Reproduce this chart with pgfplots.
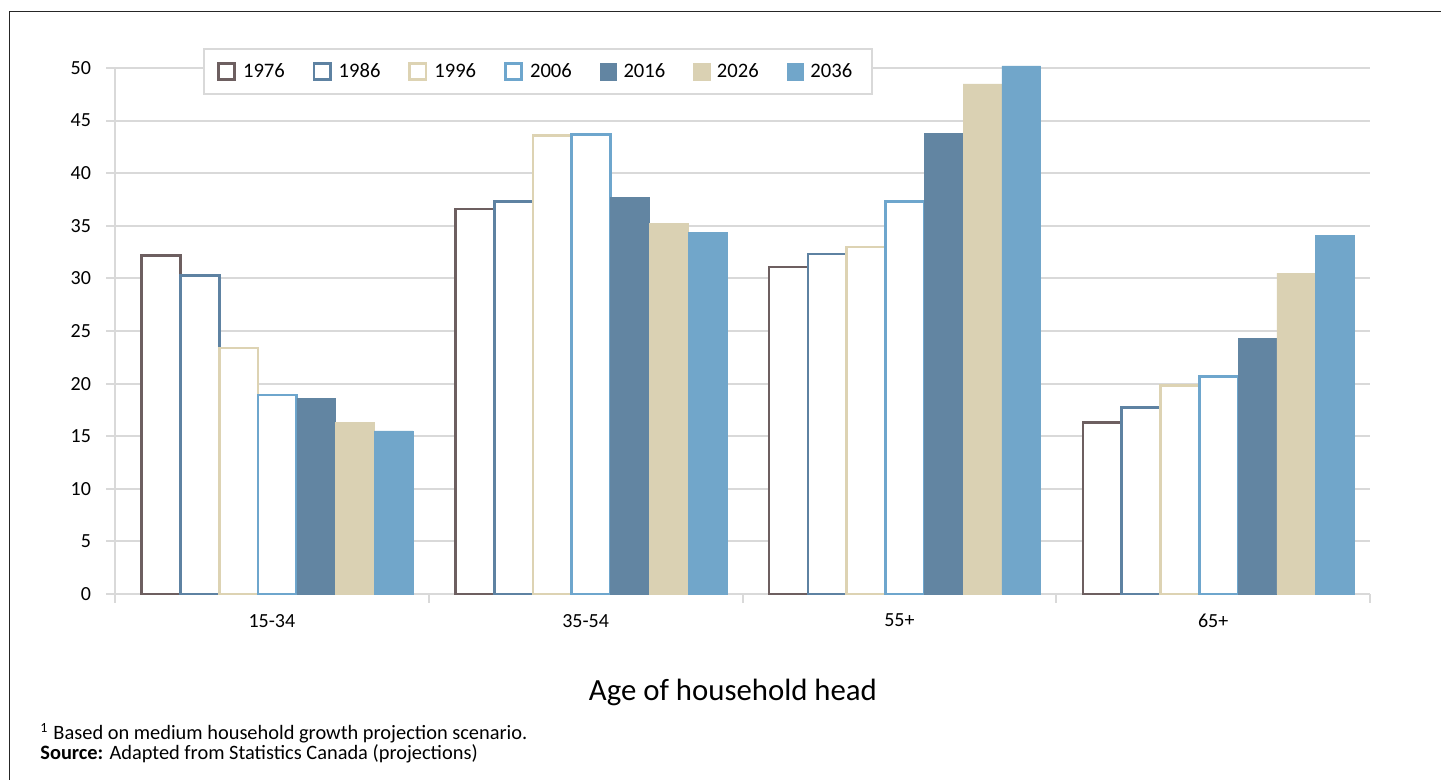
\documentclass[border=0pt]{standalone}
\usepackage{fontspec}
\setmainfont{Carlito}
\usepackage{pgfplots}
\usepackage{pgfplotstable}
\pgfplotsset{compat=1.18}

\definecolor{gridgray}{HTML}{D9D9D9}
\definecolor{c1976}{HTML}{6D5F60}
\definecolor{c1986}{HTML}{5E82A2}
\definecolor{c1996}{HTML}{DDD3B3}
\definecolor{c2006}{HTML}{6EA6CD}
\definecolor{c2016}{HTML}{6285A2}
\definecolor{c2026}{HTML}{DAD1B3}
\definecolor{c2036}{HTML}{71A6CA}

% share of households by age group of head (categories at x = 0..3)
\pgfplotstableread{
x  y1976 y1986 y1996 y2006 y2016 y2026 y2036
0  32.2  30.3  23.4  18.9  18.6  16.3  15.5
1  36.6  37.3  43.6  43.7  37.7  35.2  34.4
2  31.1  32.3  33.0  37.3  43.8  48.5  50.2
3  16.3  17.7  19.8  20.7  24.3  30.5  34.1
}\datatable

\newcommand\bw{0.1236}

\begin{document}
\begin{tikzpicture}
\path[use as bounding box] (0,0) rectangle (720.5pt,390pt);
\draw[line width=0.8pt, black!85] (4.65pt,0pt) -- (4.65pt,384.15pt) -- (720.5pt,384.15pt);

\begin{axis}[
  at={(57.5pt,93pt)}, anchor=south west,
  width=627.5pt, height=263pt, scale only axis,
  xmin=-0.5, xmax=3.5, ymin=0, ymax=50,
  clip=false,
  axis x line*=bottom, axis y line*=left,
  axis line style={draw=gridgray, line width=1pt, -},
  xtick={-0.5,0.5,1.5,2.5,3.5}, xticklabels={},
  extra x ticks={0,1,2,3},
  extra x tick labels={15-34,35-54,55+,65+},
  extra x tick style={major tick length=0pt, tick label style={yshift=-6.5pt}},
  ytick={0,5,...,50},
  tick align=outside, major tick length=4.5pt,
  tick style={draw=gridgray, line width=1pt},
  ymajorgrids, major grid style={draw=gridgray, line width=1pt},
  tick label style={font=\fontsize{10}{12}\selectfont},
  yticklabel style={xshift=-4pt},
  /pgf/number format/assume math mode=true,
  ybar, bar width=\bw,
  legend columns=7,
  legend image code/.code={\draw[#1] (0pt,-4.1pt) rectangle (8.25pt,4.1pt);},
  legend style={at={(0.0701,1.038)}, anchor=north west,
    draw=gridgray, line width=1pt, fill=white,
    font=\fontsize{10.3}{12}\selectfont,
    inner xsep=6.5pt, inner ysep=5pt,
    nodes={inner sep=2pt, inner xsep=3.5pt, text depth=0.15em},
    /tikz/every even column/.append style={column sep=10.4pt}},
]
\addplot[bar shift={-3*\bw+0.0176}, fill=white, draw=c1976, line width=1.3pt] table[x=x,y=y1976] {\datatable};
\addplot[bar shift={-2*\bw+0.0176}, fill=white, draw=c1986, line width=1.3pt] table[x=x,y=y1986] {\datatable};
\addplot[bar shift={-1*\bw+0.0176}, fill=white, draw=c1996, line width=1.3pt] table[x=x,y=y1996] {\datatable};
\addplot[bar shift={0.0176}, fill=white, draw=c2006, line width=1.3pt] table[x=x,y=y2006] {\datatable};
\addplot[bar shift={1*\bw+0.0176}, fill=c2016, draw=c2016, line width=0.2pt] table[x=x,y=y2016] {\datatable};
\addplot[bar shift={2*\bw+0.0176}, fill=c2026, draw=c2026, line width=0.2pt] table[x=x,y=y2026] {\datatable};
\addplot[bar shift={3*\bw+0.0176}, fill=c2036, draw=c2036, line width=0.2pt] table[x=x,y=y2036] {\datatable};
\legend{1976,1986,1996,2006,2016,2026,2036}
\end{axis}

\node[anchor=base, font=\fontsize{15.4}{18}\selectfont] at (366.5pt,39.5pt) {Age of household head};
\node[anchor=base west, inner sep=0pt, font=\fontsize{10.2}{12}\selectfont] at (20pt,20pt) {\textsuperscript{\fontsize{7}{8}\selectfont 1}\hspace{2.5pt}Based on medium household growth projection scenario.};
\node[anchor=base west, inner sep=0pt, font=\fontsize{10.2}{12}\selectfont] at (20pt,10pt) {\textbf{Source:} Adapted from Statistics Canada (projections)};
\end{tikzpicture}
\end{document}
